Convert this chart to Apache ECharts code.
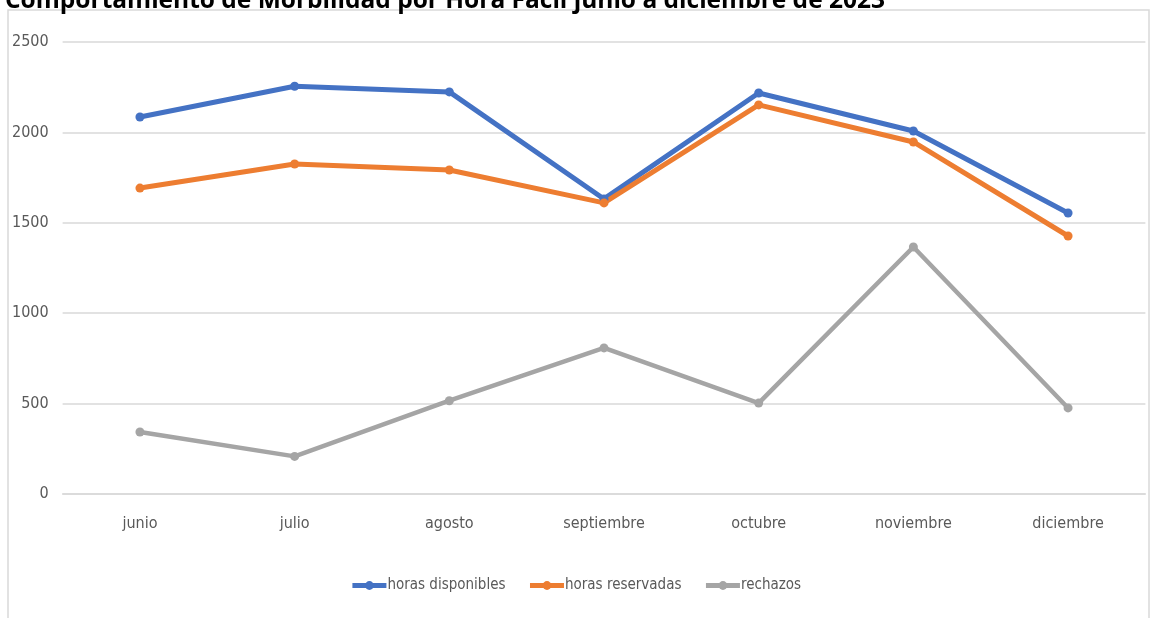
<!DOCTYPE html>
<html>
<head>
<meta charset="utf-8">
<script src="https://cdn.jsdelivr.net/npm/echarts@6/dist/echarts.min.js"></script>
<style>
  html, body { margin: 0; padding: 0; background: #fff; }
  #chart { width: 1151px; height: 618px; }
</style>
</head>
<body>
<div id="chart"></div>
<script>
// datos
var months = ['junio', 'julio', 'agosto', 'septiembre', 'octubre', 'noviembre', 'diciembre'];
var horasDisponibles = [2085, 2255, 2224, 1632, 2218, 2008, 1554];
var horasReservadas = [1692, 1825, 1792, 1610, 2152, 1947, 1427];
var rechazos = [343, 208, 516, 808, 503, 1366, 476];

var chart = echarts.init(document.getElementById('chart'));
var labelFont = "'Liberation Sans Narrow', 'DejaVu Sans Condensed', sans-serif";

function lineSerie(name, data, color, width) {
	return {
		name: name,
		type: 'line',
		data: data,
		symbol: 'circle',
		symbolSize: 9,
		lineStyle: { color: color, width: width },
		itemStyle: { color: color },
		emphasis: { disabled: true }
	};
}

chart.setOption({
	animation: false,
	title: {
		text: 'Comportamiento de Morbilidad por Hora Fácil junio a diciembre de 2023',
		left: 0,
		top: -16,
		textStyle: { fontSize: 24.5, fontWeight: 'bold', color: '#000', fontFamily: "'Open Sans', sans-serif" }
	},
	graphic: [{
		type: 'rect',
		shape: { x: 8, y: 10, width: 1141, height: 620 },
		style: { fill: 'none', stroke: '#d9d9d9', lineWidth: 1.5 },
		z: -1
	}],
	legend: {
		bottom: 20,
		left: 'center',
		itemWidth: 34,
		itemHeight: 11,
		itemGap: 22,
		lineStyle: { width: 5 },
		textStyle: { fontSize: 15, color: '#595959', fontFamily: labelFont, padding: [0, 0, 0, -4] },
		data: ['horas disponibles', 'horas reservadas', 'rechazos']
	},
	grid: { left: 62.6, right: 5.6, top: 42, bottom: 124 },
	xAxis: {
		type: 'category',
		data: months,
		boundaryGap: true,
		axisLine: { lineStyle: { color: '#d9d9d9', width: 1.5 } },
		axisTick: { show: false },
		axisLabel: { fontSize: 16, color: '#595959', margin: 22, fontFamily: labelFont }
	},
	yAxis: {
		type: 'value',
		min: 0,
		max: 2500,
		interval: 500,
		axisLine: { show: false },
		axisTick: { show: false },
		splitLine: { lineStyle: { color: '#d9d9d9', width: 1.5 } },
		axisLabel: { fontSize: 16, color: '#595959', margin: 14, fontFamily: labelFont, formatter: function (v) { return String(v); } }
	},
	series: [
		lineSerie('horas disponibles', horasDisponibles, '#4472C4', 5),
		lineSerie('horas reservadas', horasReservadas, '#ED7D31', 5),
		lineSerie('rechazos', rechazos, '#A5A5A5', 4.5)
	]
});
</script>
</body>
</html>
